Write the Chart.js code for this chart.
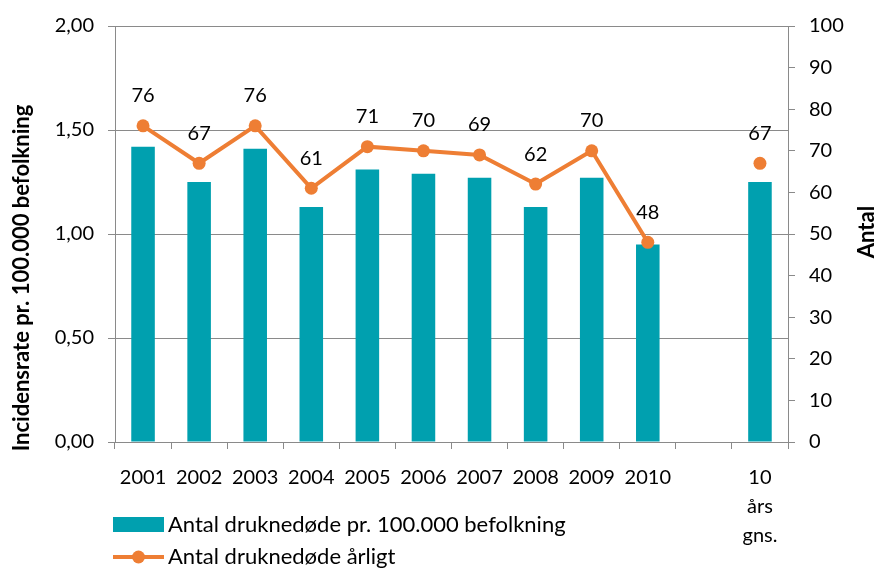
<!DOCTYPE html>
<html>
<head>
<meta charset="utf-8">
<script src="https://cdn.jsdelivr.net/npm/chart.js@4.4.0/dist/chart.umd.min.js"></script>
<style>
  html, body { margin: 0; padding: 0; background: #fff; }
  #wrap { width: 878px; height: 568px; }
</style>
</head>
<body>
<div id="wrap"><canvas id="chart" width="878" height="568"></canvas></div>
<script>
// Data
const categories = ['2001', '2002', '2003', '2004', '2005', '2006', '2007', '2008', '2009', '2010', '', ['10', 'års', 'gns.']];
const incidensRate = [1.42, 1.25, 1.41, 1.13, 1.31, 1.29, 1.27, 1.13, 1.27, 0.95, null, 1.25];
const antalAarligt = [76, 67, 76, 61, 71, 70, 69, 62, 70, 48, null, 67];
const seriesNames = ['Antal druknedøde pr. 100.000 befolkning', 'Antal druknedøde årligt'];
const axisTitles = ['Incidensrate pr. 100.000 befolkning', 'Antal'];

const TEAL = '#00A0AF';
const ORANGE = '#EE7E34';
const GRID = '#8a8a8a';
const FONT = 'Lato';

Chart.defaults.font.family = FONT;
Chart.defaults.font.size = 20;
Chart.defaults.color = '#000';

// Værdier over linjepunkterne
const pointLabels = {
    id: 'pointLabels',
    afterDatasetsDraw(chart) {
        const ctx = chart.ctx;
        const meta = chart.getDatasetMeta(1);
        ctx.save();
        ctx.font = '20px ' + FONT;
        ctx.fillStyle = '#000';
        ctx.textAlign = 'center';
        ctx.textBaseline = 'middle';
        meta.data.forEach((pt, i) => {
            const v = antalAarligt[i];
            if (v === null) return;
            ctx.fillText(String(v), pt.x, pt.y - 30);
        });
        ctx.restore();
    }
};

// Aksetitler og legende lodret under grafen
const extras = {
    id: 'extras',
    afterDraw(chart) {
        const ctx = chart.ctx;
        ctx.save();
        ctx.textBaseline = 'middle';
        ctx.textAlign = 'center';
        ctx.fillStyle = '#000';
        ctx.font = 'bold 22px ' + FONT;
        ctx.save();
        ctx.translate(22, 278);
        ctx.rotate(-Math.PI / 2);
        ctx.fillText(axisTitles[0], 0, 0);
        ctx.restore();
        ctx.save();
        ctx.translate(867, 232);
        ctx.rotate(-Math.PI / 2);
        ctx.fillText(axisTitles[1], 0, 0);
        ctx.restore();

        ctx.font = '22px ' + FONT;
        ctx.textAlign = 'left';
        // bar
        ctx.fillStyle = TEAL;
        ctx.fillRect(113, 517, 51, 15);
        ctx.fillStyle = '#000';
        ctx.fillText(seriesNames[0], 168, 525);
        // line
        ctx.strokeStyle = ORANGE;
        ctx.lineWidth = 4;
        ctx.beginPath();
        ctx.moveTo(113, 557);
        ctx.lineTo(164, 557);
        ctx.stroke();
        ctx.fillStyle = ORANGE;
        ctx.beginPath();
        ctx.arc(138.5, 557, 6.5, 0, Math.PI * 2);
        ctx.fill();
        ctx.fillStyle = '#000';
        ctx.fillText(seriesNames[1], 168, 557);
        ctx.restore();
    }
};

new Chart(document.getElementById('chart').getContext('2d'), {
    type: 'bar',
    data: {
        labels: categories,
        datasets: [
            {
                type: 'bar',
                label: seriesNames[0],
                data: incidensRate,
                backgroundColor: TEAL,
                yAxisID: 'y',
                categoryPercentage: 1,
                barPercentage: 0.42,
                order: 2
            },
            {
                type: 'line',
                label: seriesNames[1],
                data: antalAarligt,
                borderColor: ORANGE,
                backgroundColor: ORANGE,
                borderWidth: 4,
                pointRadius: 6.5,
                pointHoverRadius: 6.5,
                pointBackgroundColor: ORANGE,
                pointBorderWidth: 0,
                spanGaps: false,
                tension: 0,
                yAxisID: 'y1',
                order: 1
            }
        ]
    },
    options: {
        responsive: false,
        animation: false,
        layout: { padding: { top: 24, left: 0, right: 0, bottom: 0 } },
        plugins: {
            legend: { display: false },
            tooltip: { enabled: false }
        },
        scales: {
            x: {
                offset: true,
                grid: { display: true, drawOnChartArea: false, drawTicks: true, tickLength: 7, color: GRID, offset: true },
                border: { display: true, color: GRID, width: 1 },
                ticks: { padding: 14, maxRotation: 0, autoSkip: false, font: { size: 20, lineHeight: 1.45 } },
                afterFit: (s) => { s.height = 126; }
            },
            y: {
                position: 'left',
                min: 0,
                max: 2,
                ticks: {
                    stepSize: 0.5,
                    padding: 14,
                    callback: (v) => Number(v).toFixed(2).replace('.', ',')
                },
                grid: { color: GRID, lineWidth: 1, tickLength: 7 },
                border: { display: true, color: GRID, width: 1 },
                afterFit: (s) => { s.width = 115; }
            },
            y1: {
                position: 'right',
                min: 0,
                max: 100,
                ticks: { stepSize: 10, padding: 14 },
                grid: { drawOnChartArea: false, color: GRID, tickLength: 7 },
                border: { display: true, color: GRID, width: 1 },
                afterFit: (s) => { s.width = 90; }
            }
        }
    },
    plugins: [pointLabels, extras]
});
</script>
</body>
</html>
